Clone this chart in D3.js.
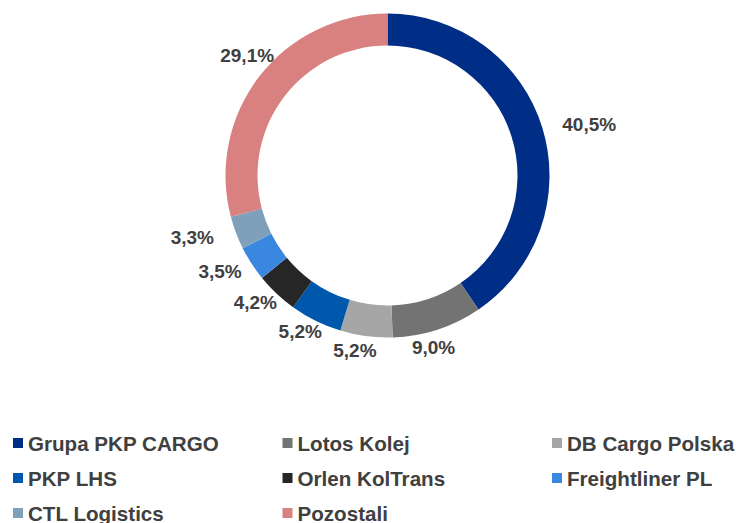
<!DOCTYPE html>
<html>
<head>
<meta charset="utf-8">
<script src="https://cdn.jsdelivr.net/npm/d3@7"></script>
<style>
  html, body { margin: 0; padding: 0; background: #fff; }
  svg { display: block; font-family: "Liberation Sans", Arial, sans-serif; }
</style>
</head>
<body>
<svg id="chart"></svg>
<script>
const categories = ["Grupa PKP CARGO", "Lotos Kolej", "DB Cargo Polska", "PKP LHS",
  "Orlen KolTrans", "Freightliner PL", "CTL Logistics", "Pozostali"];
const shares = [40.5, 9.0, 5.2, 5.2, 4.2, 3.5, 3.3, 29.1];
const colors = ["#002d86", "#737373", "#a6a6a6", "#0058ac", "#262626", "#3a87e0", "#7fa0ba", "#d98080"];

const width = 736;
const height = 523;
const cx = 387.5, cy = 175.5;
const outerR = 162, innerR = 130;
const LEGEND_COLS = 3;
const LEGEND_X = 13, LEGEND_COL_W = 269.5;
const LEGEND_Y = 443, LEGEND_ROW_H = 35;

const svg = d3.select("#chart").attr("width", width).attr("height", height);

const pie = d3.pie().sort(null).value(d => d);
const arcs = pie(shares);
const arc = d3.arc().innerRadius(innerR).outerRadius(outerR);

const g = svg.append("g").attr("transform", `translate(${cx},${cy})`);

g.selectAll("path")
  .data(arcs)
  .enter()
  .append("path")
  .attr("d", arc)
  .attr("fill", (d, i) => colors[i]);

// labels outside the ring, pushed further out where the text sits to the side
const fmt = v => v.toFixed(1).replace(".", ",") + "%";
const labelPos = d => {
  const a = (d.startAngle + d.endAngle) / 2 + 3 * Math.PI / 180;
  const s = Math.sin(a);
  const r = 178 + 36 * Math.pow(s, 6);
  return [r * s, -r * Math.cos(a)];
};
g.selectAll("text.lbl")
  .data(arcs)
  .enter()
  .append("text")
  .attr("class", "lbl")
  .attr("x", d => labelPos(d)[0])
  .attr("y", d => labelPos(d)[1])
  .attr("text-anchor", "middle")
  .attr("dominant-baseline", "central")
  .attr("font-size", 19)
  .attr("font-weight", "bold")
  .attr("fill", "#404040")
  .text(d => fmt(d.data));

// legend
const legend = svg.append("g").attr("id", "legend");
const items = legend.selectAll("g")
  .data(categories)
  .enter()
  .append("g")
  .attr("transform", (d, i) => `translate(${LEGEND_X + (i % LEGEND_COLS) * LEGEND_COL_W},${LEGEND_Y + Math.floor(i / LEGEND_COLS) * LEGEND_ROW_H})`);

items.append("rect")
  .attr("x", 0)
  .attr("y", -5)
  .attr("width", 10)
  .attr("height", 10)
  .attr("fill", (d, i) => colors[i]);

items.append("text")
  .attr("x", 15)
  .attr("y", 0)
  .attr("dominant-baseline", "central")
  .attr("font-size", 20.6)
  .attr("font-weight", "bold")
  .attr("fill", "#404040")
  .text(d => d);
</script>
</body>
</html>
